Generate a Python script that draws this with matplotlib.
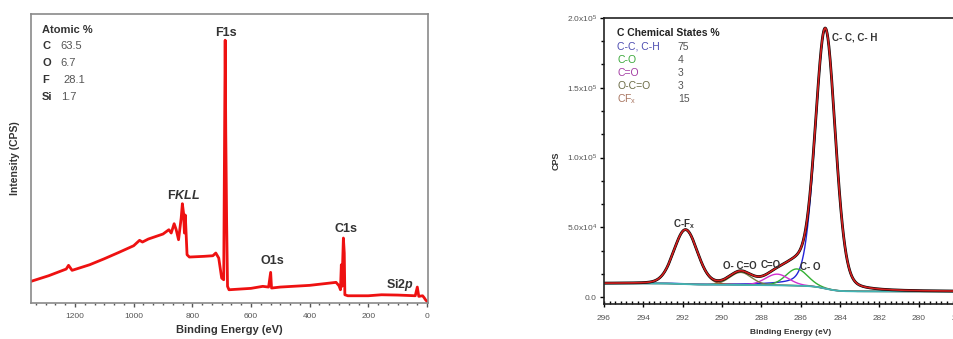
import numpy as np
import matplotlib
matplotlib.use("Agg")
import matplotlib.pyplot as plt
from matplotlib.ticker import AutoMinorLocator, FixedLocator

plt.rcParams['font.family'] = ['Liberation Sans', 'DejaVu Sans']
plt.rcParams['mathtext.fontset'] = 'custom'
plt.rcParams['mathtext.rm'] = 'Liberation Sans'
plt.rcParams['mathtext.it'] = 'Liberation Sans:italic:bold'
plt.rcParams['mathtext.bf'] = 'Liberation Sans:bold'

# ---- survey spectrum (binding energy eV, intensity a.u.)
be_survey = [1350, 1290, 1230, 1222, 1210, 1150, 1100, 1050, 1000, 980, 970, 950, 900,
             880, 872, 862, 855, 847, 838, 834, 830, 827, 824, 818, 810, 760, 730, 720,
             710, 700, 693, 690, 688, 686, 683, 680, 675, 600, 560, 540, 533, 530, 500,
             400, 310, 300, 295, 292, 290, 285, 282, 280, 270, 200, 155, 100, 40, 33,
             28, 15, 10, 5, 0]
int_survey = [21.7, 27.3, 34.0, 37.7, 32.7, 38.3, 44.3, 50.7, 57.3, 62.7, 61.0, 64.0, 69.0,
              73.3, 70.0, 79.3, 73.3, 63.3, 85.0, 99.3, 90.0, 70.0, 88.0, 48.3, 46.0, 46.7,
              47.3, 50.0, 45.0, 25.0, 23.3, 170.0, 262.7, 170.0, 80.0, 16.7, 13.3, 14.7,
              16.7, 16.0, 30.7, 15.0, 16.0, 17.7, 20.7, 17.3, 13.3, 38.3, 16.7, 65.0, 50.0,
              8.3, 7.3, 7.3, 8.3, 8.0, 7.3, 16.0, 6.7, 7.3, 5.5, 3.3, 1.7]
atomic_el = ['C', 'O', 'F', 'Si']
atomic_pct = ['63.5', '6.7', '28.1', '1.7']

# ---- C1s fit components
comp_names = ['C-C, C-H', 'C-O', 'C=O', 'O-C=O', r'CF$_\mathregular{x}$']
comp_pct = [75, 4, 3, 3, 15]
comp_center = [284.75, 286.2, 287.2, 289.05, 291.85]
comp_height = [186000, 12000, 8000, 9000, 38700]
comp_fwhm = [1.2, 1.3, 1.4, 1.3, 1.4]
comp_lorentz = [0.2, 0.1, 0.1, 0.1, 0.1]
bg_high, bg_low = 9800, 4000

line_cols = ['#2323d8', '#33b033', '#d030d0', '#7a7a40', '#a05030']
text_cols = ['#4b4bb0', '#3aa83a', '#a33ca3', '#6b6b45', '#a87560']

fig = plt.figure(figsize=(9.54, 3.39), dpi=100)

# ================= left: survey
ax1 = fig.add_axes([0.0325, 0.106, 0.416, 0.853])
ax1.plot(be_survey, int_survey, color='#ee1111', lw=2.0)
ax1.set_xlim(1350, -3)
ax1.set_ylim(0, 289)
ax1.set_yticks([])
ax1.xaxis.set_major_locator(FixedLocator([1200, 1000, 800, 600, 400, 200, 0]))
ax1.xaxis.set_minor_locator(AutoMinorLocator(6))
ax1.tick_params(axis='x', which='major', direction='out', length=3, width=1,
                labelsize=6, labelcolor='#555555', colors='#555555', pad=4)
ax1.tick_params(axis='x', which='minor', direction='out', length=1.5, width=1, colors='#555555')
for s in ax1.spines.values():
    s.set_color('#8a8a8a')
    s.set_linewidth(1.2)
ax1.set_xlabel('Binding Energy (eV)', fontsize=8, fontweight='bold', color='#333333', labelpad=4)
ax1.set_ylabel('Intensity (CPS)', fontsize=7.5, fontweight='bold', color='#333333', labelpad=8)

lab = dict(fontsize=9, fontweight='bold', color='#333333', ha='center', va='center')
ax1.text(684, 270, 'F1s', **lab)
ax1.text(830, 108, r'F$\mathit{KLL}$', **lab)
ax1.text(528, 42, 'O1s', **lab)
ax1.text(277, 74, 'C1s', **lab)
ax1.text(92, 18, r'Si2$\mathit{p}$', **lab)

ax1.text(0.028, 0.945, 'Atomic %', transform=ax1.transAxes, fontsize=8,
         fontweight='bold', color='#333333', va='center')
for i, (el, p) in enumerate(zip(atomic_el, atomic_pct)):
    y = 0.889 - i * 0.0588
    ax1.text(0.028, y, el, transform=ax1.transAxes, fontsize=8, fontweight='bold',
             color='#333333', va='center')
    ax1.text(0.075 if el != 'F' else 0.082, y, p, transform=ax1.transAxes, fontsize=8,
             color='#555555', va='center')

# ================= right: C1s high resolution
x = np.linspace(277, 296, 1500)


def pv(x, c, h, w, eta):
    s = w / 2.3548
    g = np.exp(-(x - c) ** 2 / (2 * s ** 2))
    l = 1 / (1 + ((x - c) / (w / 2)) ** 2)
    return h * ((1 - eta) * g + eta * l)


peaks = [pv(x, c, h, w, e) for c, h, w, e in
         zip(comp_center, comp_height, comp_fwhm, comp_lorentz)]
total = np.sum(peaks, axis=0)
cum = np.cumsum(total)
bg = bg_low + (bg_high - bg_low) * cum / cum[-1]   # Shirley-type background
envelope = bg + total

ax2 = fig.add_axes([0.633, 0.103, 0.392, 0.844])
for pk, col in zip(peaks, line_cols):
    ax2.plot(x, bg + pk, color=col, lw=1.0)
ax2.plot(x, bg, color='#40b4b4', lw=1.3)
ax2.plot(x, envelope, color='black', lw=2.0)
ax2.plot(x, envelope, color='#d42020', lw=1.2)
ax2.set_xlim(296, 277)
ax2.set_ylim(-5000, 200000)
ax2.xaxis.set_major_locator(FixedLocator(np.arange(296, 277, -2)))
ax2.xaxis.set_minor_locator(AutoMinorLocator(7))
ax2.set_yticks([0, 50000, 100000, 150000, 200000])
ax2.set_yticklabels(['0.0', r'5.0x10$^\mathregular{4}$', r'1.0x10$^\mathregular{5}$',
                     r'1.5x10$^\mathregular{5}$', r'2.0x10$^\mathregular{5}$'])
ax2.yaxis.set_minor_locator(AutoMinorLocator(3))
ax2.tick_params(axis='x', which='major', direction='inout', length=4, width=1,
                labelsize=6, labelcolor='#555555', pad=6)
ax2.tick_params(axis='x', which='minor', direction='in', length=2, width=1)
ax2.tick_params(axis='y', which='major', direction='out', length=3, width=1,
                labelsize=6, labelcolor='#555555', pad=2)
ax2.tick_params(axis='y', which='minor', direction='out', length=2, width=1)
for s in ax2.spines.values():
    s.set_color('#222222')
    s.set_linewidth(1.2)
ax2.set_xlabel('Binding Energy (eV)', fontsize=6, fontweight='bold', color='#333333', labelpad=5)
ax2.set_ylabel('CPS', fontsize=6.5, fontweight='bold', color='#333333', labelpad=4)

plab = dict(fontsize=7, fontweight='bold', color='#333333', va='center')
ax2.text(284.41, 185900, 'C- C, C- H', ha='left', **plab)
ax2.text(291.93, 52300, r'C-F$_\mathregular{x}$', ha='center', **plab)
ax2.text(289.11, 22400, 'O- C=O', ha='center', **plab)
ax2.text(287.52, 22900, 'C=O', ha='center', **plab)
ax2.text(285.52, 21500, 'C- O', ha='center', **plab)

ax2.text(0.036, 0.948, 'C Chemical States %', transform=ax2.transAxes, fontsize=7.5,
         fontweight='bold', color='#222222', va='center')
for i, (nm, p, col) in enumerate(zip(comp_names, comp_pct, text_cols)):
    y = 0.900 - i * 0.0455
    ax2.text(0.036, y, nm, transform=ax2.transAxes, fontsize=7.5, color=col, va='center')
    ax2.text(0.198, y, str(p), transform=ax2.transAxes, fontsize=7.5, color='#555555', va='center')

fig.savefig('out.png', dpi=100)
